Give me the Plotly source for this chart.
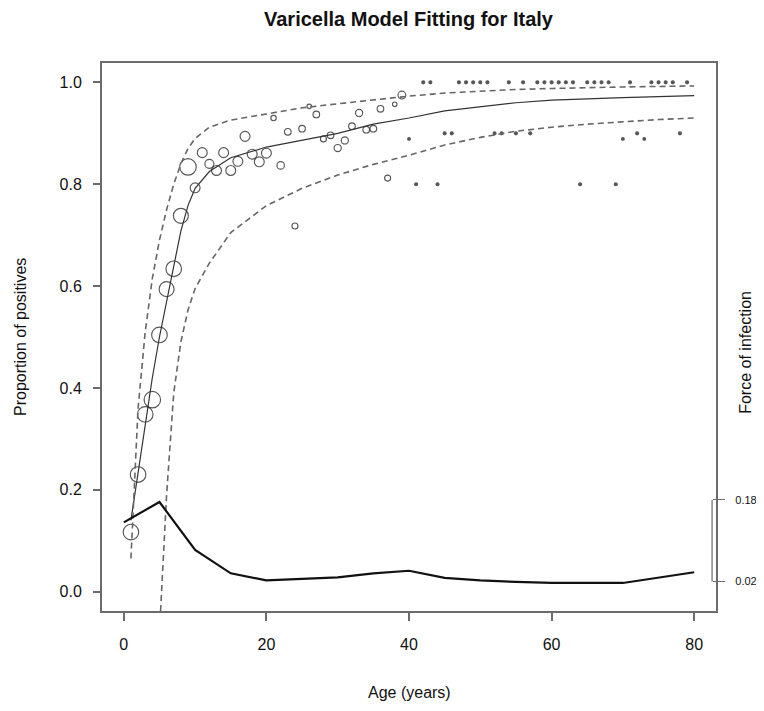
import plotly.graph_objects as go

# ---------------- data ----------------
ages = list(range(1, 80))
prop_pos = [0.117, 0.230, 0.348, 0.377, 0.504, 0.594, 0.634, 0.738, 0.834, 0.793,
            0.862, 0.840, 0.827, 0.862, 0.827, 0.845, 0.894, 0.859, 0.844, 0.861,
            0.930, 0.837, 0.903, 0.718, 0.909, 0.953, 0.937, 0.889, 0.896, 0.871,
            0.886, 0.914, 0.940, 0.907, 0.909, 0.948, 0.812, 0.957, 0.975, 0.889,
            0.800, 1.000, 1.000, 0.800, 0.900, 0.900, 1.000, 1.000, 1.000, 1.000,
            1.000, 0.900, 0.900, 1.000, 0.900, 1.000, 0.900, 1.000, 1.000, 1.000,
            1.000, 1.000, 1.000, 0.800, 1.000, 1.000, 1.000, 1.000, 0.800, 0.889,
            1.000, 0.900, 0.889, 1.000, 1.000, 1.000, 1.000, 0.900, 1.000]
sample_size = [52, 52, 52, 55, 52, 50, 52, 50, 55, 33,
               33, 30, 33, 33, 33, 33, 33, 33, 33, 33,
               18, 25, 22, 20, 22, 15, 22, 20, 22, 24,
               24, 22, 24, 22, 22, 22, 20, 15, 26, 9,
               10, 10, 10, 10, 10, 10, 10, 10, 10, 10,
               10, 10, 10, 10, 10, 10, 10, 10, 10, 10,
               10, 10, 10, 10, 10, 10, 10, 10, 10, 9,
               10, 10, 9, 10, 10, 10, 10, 10, 10]

fit_ages = [1, 2, 3, 4, 5, 6, 7, 8, 9, 10, 12, 15, 20, 25, 30, 35, 40, 45, 50, 55, 60, 65, 70, 75, 80]
fit_prop = [0.140, 0.235, 0.330, 0.420, 0.500, 0.570, 0.636, 0.708, 0.758, 0.792, 0.825, 0.852,
            0.873, 0.887, 0.900, 0.918, 0.930, 0.944, 0.952, 0.960, 0.965, 0.968, 0.970, 0.972, 0.974]
upper_ci = [0.065, 0.360, 0.510, 0.615, 0.690, 0.750, 0.800, 0.840, 0.870, 0.890, 0.912, 0.926,
            0.938, 0.950, 0.958, 0.966, 0.973, 0.979, 0.983, 0.986, 0.988, 0.990, 0.991, 0.992, 0.993]
lower_ci = [-0.900, -0.700, -0.500, -0.300, -0.080, 0.190, 0.390, 0.490, 0.553, 0.595, 0.645, 0.705,
            0.758, 0.792, 0.818, 0.839, 0.857, 0.877, 0.892, 0.904, 0.912, 0.918, 0.923, 0.927, 0.930]

foi_ages = [0, 5, 10, 15, 20, 25, 30, 35, 40, 45, 50, 55, 60, 65, 70, 80]
foi = [0.136, 0.176, 0.082, 0.036, 0.022, 0.025, 0.028, 0.036, 0.041, 0.027, 0.022, 0.019,
       0.017, 0.017, 0.017, 0.038]

x_ticks = [0, 20, 40, 60, 80]
y_ticks = [0.0, 0.2, 0.4, 0.6, 0.8, 1.0]
foi_ticks = [0.02, 0.18]

# ---------------- figure ----------------
FONT = "Liberation Sans, Arial, Helvetica, sans-serif"
GRAY = "#6b6b6b"

marker_sizes = [0.3 * n for n in sample_size]
# very small circles render as solid dots (as in the original device output)
marker_fill = ["#111111" if s < 4 else "rgba(0,0,0,0)" for s in marker_sizes]

fig = go.Figure()

fig.add_trace(go.Scatter(
    x=ages, y=prop_pos, mode="markers",
    marker=dict(symbol="circle", size=marker_sizes, color=marker_fill,
                line=dict(width=1.15, color="#111111")),
    hoverinfo="skip", showlegend=False))

fig.add_trace(go.Scatter(x=fit_ages, y=fit_prop, mode="lines",
                         line=dict(color="#333333", width=1.2), showlegend=False))
fig.add_trace(go.Scatter(x=fit_ages, y=upper_ci, mode="lines",
                         line=dict(color="#666666", width=1.6, dash="6px,4px"), showlegend=False))
fig.add_trace(go.Scatter(x=fit_ages, y=lower_ci, mode="lines",
                         line=dict(color="#666666", width=1.6, dash="6px,4px"), showlegend=False))
fig.add_trace(go.Scatter(x=foi_ages, y=foi, mode="lines",
                         line=dict(color="#111111", width=2.2), showlegend=False))

# invisible trace on secondary axis so it renders
fig.add_trace(go.Scatter(x=[foi_ages[0]], y=[foi[0]], yaxis="y2", mode="markers",
                         marker=dict(opacity=0), hoverinfo="skip", showlegend=False))

# page body has an 8px default margin: figure is 756x703 placed at (8, 8)
fig.update_layout(
    width=756, height=703,
    margin=dict(l=93, r=47, t=54, b=99, autoexpand=False),
    paper_bgcolor="white", plot_bgcolor="white",
    font=dict(family=FONT, color="#111111", size=16),
    xaxis=dict(range=[-3.2, 83.2], tickvals=x_ticks, ticktext=[str(v) for v in x_ticks],
               ticks="outside", ticklen=8, tickwidth=1.5, tickcolor=GRAY,
               ticklabelstandoff=10, automargin=False,
               showgrid=False, zeroline=False, showline=False,
               tickfont=dict(size=16, family=FONT)),
    yaxis=dict(range=[-0.04, 1.04], tickvals=y_ticks, ticktext=[f"{v:.1f}" for v in y_ticks],
               ticks="outside", ticklen=7, tickwidth=1.5, tickcolor=GRAY,
               ticklabelstandoff=8, automargin=False,
               showgrid=False, zeroline=False, showline=False,
               tickfont=dict(size=16, family=FONT)),
    yaxis2=dict(range=[-0.04, 1.04], overlaying="y", side="right", anchor="free",
                position=0.992, tickvals=foi_ticks, ticktext=["0.02", "0.18"],
                ticks="outside", ticklen=12, tickwidth=1.2, tickcolor=GRAY,
                ticklabelstandoff=8, automargin=False,
                showgrid=False, zeroline=False, showline=False,
                tickfont=dict(size=11, family=FONT)),
    shapes=[
        dict(type="rect", xref="paper", yref="paper", x0=0, x1=1, y0=0, y1=1,
             line=dict(color=GRAY, width=2)),
        dict(type="line", xref="paper", yref="y", x0=0.992, x1=0.992,
             y0=foi_ticks[0], y1=foi_ticks[1], line=dict(color=GRAY, width=1.2)),
    ],
    annotations=[
        dict(text="<b>Varicella Model Fitting for Italy</b>", xref="paper", yref="paper",
             x=0.5, y=1.078, showarrow=False, font=dict(size=20, family=FONT),
             xanchor="center", yanchor="middle"),
        dict(text="Age (years)", xref="paper", yref="paper", x=0.5, y=-0.1455,
             showarrow=False, font=dict(size=16, family=FONT), xanchor="center", yanchor="middle"),
        dict(text="Proportion of positives", xref="paper", yref="paper", x=-0.1315, y=0.5,
             showarrow=False, textangle=-90, font=dict(size=16, family=FONT),
             xanchor="center", yanchor="middle"),
        dict(text="Force of infection", xref="paper", yref="paper", x=1.047, y=0.473,
             showarrow=False, textangle=-90, font=dict(size=16, family=FONT),
             xanchor="center", yanchor="middle"),
    ],
)

fig.write_html("out.html")
